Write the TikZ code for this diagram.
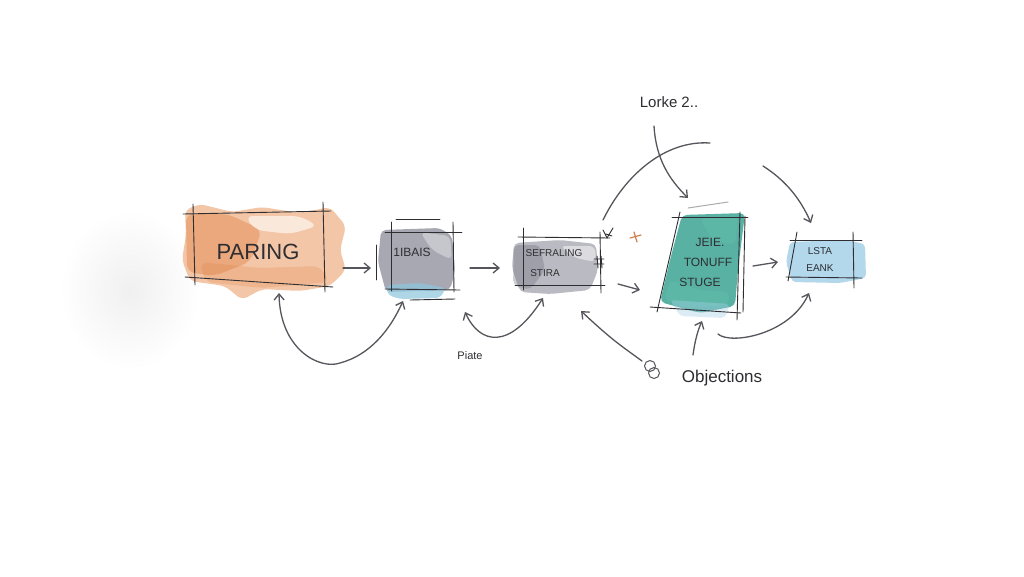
\documentclass[tikz,border=0pt]{standalone}
\usepackage{fontspec}
\setmainfont{Liberation Sans}
\usetikzlibrary{arrows.meta}
\definecolor{ink}{HTML}{2E2E32}
\definecolor{agray}{HTML}{55565C}
\definecolor{wor}{HTML}{EFAE82}
\definecolor{wor2}{HTML}{E08448}
\definecolor{wgr}{HTML}{8C8C9A}
\definecolor{wgr2}{HTML}{6E6E7E}
\definecolor{wbl}{HTML}{8CC6DE}
\definecolor{wte}{HTML}{2F9E8B}
\definecolor{wte2}{HTML}{5FBBAA}
\definecolor{wlb}{HTML}{A6D0E8}
\definecolor{plus}{HTML}{D0804E}
\tikzset{
  sk/.style={draw=ink, line width=0.9pt, line cap=round},
  arr/.style={draw=agray, line width=1.3pt, line cap=round, -{Straight Barb[length=6pt,width=10pt,line width=1.3pt]}},
  darr/.style={draw=agray, line width=1.3pt, line cap=round, {Straight Barb[length=6pt,width=10pt,line width=1.3pt]}-{Straight Barb[length=6pt,width=10pt,line width=1.3pt]}},
  thin/.style={draw=agray, line width=1.0pt, line cap=round},
  lbl/.style={text=ink, inner sep=0pt},
  boxn/.style={inner sep=0pt, draw=none}
}
\begin{document}
\begin{tikzpicture}[x=1pt,y=-1pt]
\useasboundingbox (0,0) rectangle (1024,576);
\fill[white] (0,0) rectangle (1024,576);
\shade[inner color=black!6, outer color=white] (130,290) ellipse (70 and 80);

% ---------- box 1 : PARING ----------
\node[boxn, minimum width=131pt, minimum height=67pt] (b1) at (258,247) {};
\fill[wor, opacity=0.7, rounded corners=6pt] (185,210) -- (200,204) -- (232,212) -- (262,207) -- (300,213) -- (330,207) -- (346,226) -- (340,250) -- (346,270) -- (330,286) -- (300,291) -- (262,289) -- (242,300) -- (225,286) -- (190,281) -- (182,260) -- (186,235) -- cycle;
\fill[wor2, opacity=0.45, rounded corners=8pt] (186,214) -- (228,214) -- (262,230) -- (250,262) -- (214,276) -- (187,272) -- cycle;
\fill[wor2, opacity=0.25, rounded corners=8pt] (200,262) -- (260,268) -- (320,266) -- (330,282) -- (262,288) -- (205,282) -- cycle;
\fill[white, opacity=0.6, rounded corners=8pt] (245,216) -- (300,216) -- (318,226) -- (290,234) -- (255,230) -- cycle;
\draw[sk] (183,214) -- (331,211);
\draw[sk] (193,204) -- (195,285);
\draw[sk] (323,202) -- (325,292);
\draw[sk] (185,277) -- (333,287);
\node[lbl, font=\fontsize{22}{22}\selectfont] (t1) at (258,252) {PARING};

% ---------- box 2 ----------
\node[boxn, minimum width=62pt, minimum height=57pt] (b2) at (422,261) {};
\fill[wgr, opacity=0.75, rounded corners=5pt] (381,230) -- (440,228) -- (452,236) -- (455,272) -- (450,290) -- (386,292) -- (378,262) -- cycle;
\fill[white, opacity=0.35, rounded corners=6pt] (420,232) -- (450,236) -- (452,260) -- (432,250) -- cycle;
\fill[wbl, opacity=0.7, rounded corners=4pt] (386,285) -- (420,283) -- (446,288) -- (440,298) -- (400,299) -- (388,295) -- cycle;
\draw[sk] (391,222) -- (391,291);
\draw[sk] (385,232) -- (462,232);
\draw[sk] (453,222) -- (454,292);
\draw[sk] (385,289) -- (460,290);
\draw[sk] (396,219) -- (440,219);
\draw[sk] (376,245) -- (376,280);
\draw[sk] (410,300) -- (455,299);
\node[lbl, font=\fontsize{12}{12}\selectfont] (t2) at (412,252) {1IBAIS};

% ---------- box 3 ----------
\node[boxn, minimum width=77pt, minimum height=48pt] (b3) at (561,261) {};
\fill[wgr, opacity=0.6, rounded corners=5pt] (514,243) -- (560,240) -- (596,244) -- (598,270) -- (590,290) -- (550,294) -- (520,292) -- (512,268) -- cycle;
\fill[wgr2, opacity=0.35, rounded corners=5pt] (514,245) -- (540,245) -- (545,270) -- (530,290) -- (513,285) -- cycle;
\fill[white, opacity=0.5, rounded corners=6pt] (560,246) -- (595,246) -- (596,262) -- (575,258) -- cycle;
\draw[sk] (518,237) -- (610,238);
\draw[sk] (523,228) -- (523,290);
\draw[sk] (600,232) -- (601,293);
\draw[sk] (515,285) -- (605,285);
\draw[sk] (603,230) -- (607,238) -- (613,228) (606,234) -- (612,236);
\draw[sk] (594,259) -- (604,259) (594,264) -- (604,264) (597,256) -- (598,268) (601,256) -- (602,268);
\node[lbl, font=\fontsize{10}{10}\selectfont] (t3a) at (554,253) {SEFRALING};
\node[lbl, font=\fontsize{10}{10}\selectfont] (t3b) at (545,273) {STIRA};

% orange plus
\draw[draw=plus, line width=1.2pt, line cap=round] (630,238) -- (641,235) (634,232) -- (637,242);

% ---------- box 4 ----------
\node[boxn, minimum width=65pt, minimum height=96pt] (b4) at (710,262) {};
\fill[wte, opacity=0.8, rounded corners=5pt] (682,215) -- (745,213) -- (738,270) -- (735,306) -- (700,313) -- (660,302) -- (670,260) -- cycle;
\fill[wte2, opacity=0.6, rounded corners=6pt] (700,218) -- (738,216) -- (735,245) -- (712,240) -- cycle;
\fill[wte2, opacity=0.6, rounded corners=6pt] (670,280) -- (700,290) -- (730,292) -- (728,305) -- (690,308) -- (664,300) -- cycle;
\fill[wlb, opacity=0.4, rounded corners=4pt] (670,300) -- (730,304) -- (725,318) -- (680,316) -- cycle;
\draw[sk] (672,217) -- (748,217);
\draw[sk] (680,212) -- (657,312);
\draw[sk] (740,212) -- (737,320);
\draw[sk] (745,216) -- (743,312);
\draw[sk] (650,307) -- (741,313);
\draw[thin, agray!50] (688,208) -- (728,202);
\node[lbl, font=\fontsize{12}{12}\selectfont] (t4a) at (710,242) {JEIE.};
\node[lbl, font=\fontsize{12}{12}\selectfont] (t4b) at (708,262) {TONUFF};
\node[lbl, font=\fontsize{12}{12}\selectfont] (t4c) at (700,282) {STUGE};

% ---------- box 5 ----------
\node[boxn, minimum width=62pt, minimum height=40pt] (b5) at (823,260) {};
\fill[wlb, opacity=0.85, rounded corners=4pt] (790,242) -- (845,240) -- (865,244) -- (866,278) -- (840,283) -- (792,282) -- (786,262) -- cycle;
\draw[sk] (790,240) -- (862,240);
\draw[sk] (797,232) -- (788,281);
\draw[sk] (853,232) -- (854,288);
\draw[sk] (786,277) -- (862,278);
\node[lbl, font=\fontsize{10}{10}\selectfont] (t5a) at (820,251) {LSTA};
\node[lbl, font=\fontsize{10}{10}\selectfont] (t5b) at (820,268) {EANK};

% ---------- labels ----------
\node[lbl, font=\fontsize{15}{15}\selectfont] (lorke) at (669,102) {Lorke 2..};
\node[lbl, font=\fontsize{11}{11}\selectfont] (piate) at (470,356) {Piate};
\node[lbl, font=\fontsize{17}{17}\selectfont] (obj) at (722,378) {Objections};

% ---------- connector coordinates ----------
\coordinate (a1s) at (343,268); \coordinate (a1e) at (371,268);
\coordinate (a2s) at (470,268); \coordinate (a2e) at (500,268);
\coordinate (a3s) at (618,284); \coordinate (a3e) at (640,290);
\coordinate (a4s) at (753,266); \coordinate (a4e) at (778,262);
\coordinate (lks) at (654,126); \coordinate (lke) at (688,198);
\coordinate (arcs) at (603,220); \coordinate (arce) at (710,143);
\coordinate (rts) at (763,166); \coordinate (rte) at (811,223);
\coordinate (c1s) at (279,293); \coordinate (c1e) at (403,301);
\coordinate (c2s) at (465,312); \coordinate (c2e) at (543,298);
\coordinate (o1s) at (642,361); \coordinate (o1e) at (581,311);
\coordinate (o2s) at (693,355); \coordinate (o2e) at (702,321);
\coordinate (o3s) at (718,334); \coordinate (o3e) at (809,293);

% ---------- connectors ----------
\draw[arr] (a1s) -- (a1e);
\draw[arr] (a2s) -- (a2e);
\draw[arr] (a3s) -- (a3e);
\draw[arr] (a4s) -- (a4e);
\draw[arr] (lks) .. controls (656,160) and (670,180) .. (lke);
\draw[thin, line width=1.3pt] (arcs) .. controls (625,175) and (665,140) .. (arce);
\draw[arr] (rts) .. controls (785,180) and (800,198) .. (rte);
\draw[darr] (c1s) .. controls (280,350) and (320,370) .. (340,363) .. controls (370,355) and (390,330) .. (c1e);
\draw[darr] (c2s) .. controls (480,345) and (510,350) .. (c2e);
\draw[arr] (o1s) .. controls (620,345) and (612,340) .. (o1e);
\draw[arr] (o2s) .. controls (695,340) and (698,330) .. (o2e);
\draw[arr] (o3s) .. controls (730,345) and (790,335) .. (o3e);

% loops before Objections
\draw[thin] (650,366) circle (5.5);
\draw[thin] (654,373) circle (5.5);
\end{tikzpicture}
\end{document}
